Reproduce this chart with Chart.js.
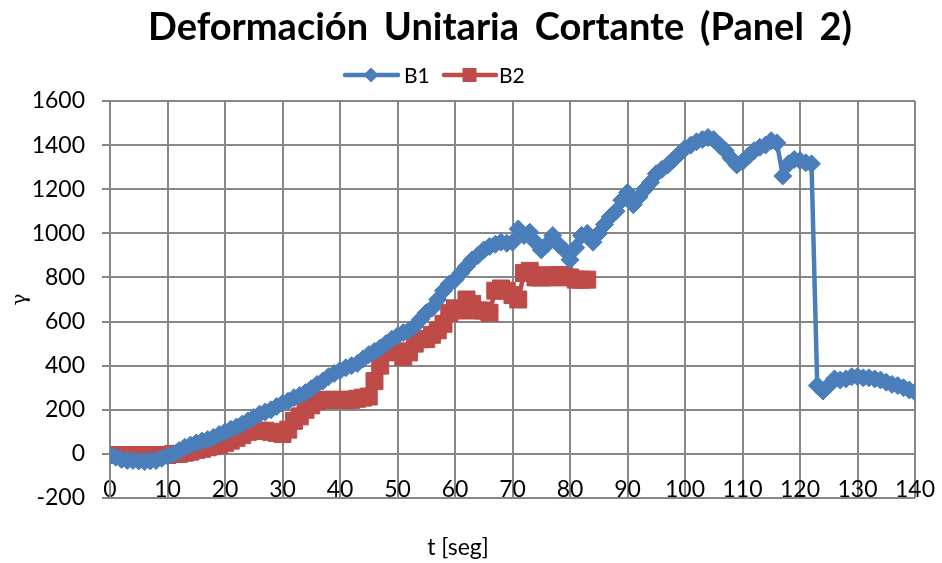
<!DOCTYPE html>
<html>
<head>
<meta charset="utf-8">
<script src="https://cdn.jsdelivr.net/npm/chart.js@4/dist/chart.umd.min.js"></script>
<style>
  html, body { margin: 0; padding: 0; background: #ffffff; }
  #wrap { width: 942px; height: 563px; position: relative; }
</style>
</head>
<body>
<div id="wrap"><canvas id="c" width="942" height="563"></canvas></div>
<script>
// ---------- data ----------
const chartTitle = 'Deformación Unitaria Cortante (Panel 2)';
const xAxisTitle = 't [seg]';
const yAxisTitle = 'γ';
const seriesNames = ['B1', 'B2'];

const timeB1 = [0,1,2,3,4,5,6,7,8,9,10,11,12,13,14,15,16,17,18,19,20,21,22,23,24,25,26,27,28,29,30,
  31,32,33,34,35,36,37,38,39,40,41,42,43,44,45,46,47,48,49,50,51,52,53,54,55,56,57,58,59,60,
  61,62,63,64,65,66,67,68,69,70,71,72,73,74,75,76,77,78,79,80,81,82,83,84,85,86,87,88,89,90,
  91,92,93,94,95,96,97,98,99,100,101,102,103,104,105,106,107,108,109,110,111,112,113,114,115,
  116,117,118,119,120,121,122,123,124,125,126,127,128,129,130,131,132,133,134,135,136,137,138,139,140];
const valuesB1 = [-5,-15,-25,-30,-30,-32,-35,-32,-30,-20,-10,0,15,30,40,50,58,65,75,88,100,
  112,122,135,150,165,180,190,200,215,228,240,255,265,278,295,315,330,350,365,378,
  390,400,410,430,450,465,480,500,520,535,550,560,580,610,640,660,700,740,770,790,
  820,850,880,900,925,940,950,960,955,960,1020,990,1005,960,925,950,990,950,925,880,
  935,990,1000,960,1000,1040,1075,1100,1150,1185,1130,1165,1200,1230,1270,1290,1310,1335,1360,1385,
  1400,1415,1425,1435,1425,1400,1375,1340,1310,1325,1350,1375,1390,1400,1420,1410,1260,1315,1335,1330,
  1320,1315,310,285,310,340,335,340,350,350,345,345,340,335,325,315,310,300,290,280];

const timeB2 = [0,1,2,3,4,5,6,7,8,9,10,11,12,13,14,15,16,17,18,19,20,21,22,23,24,25,26,27,28,29,30,
  31,32,33,34,35,36,37,38,39,40,41,42,43,44,45,46,47,48,49,50,51,52,53,54,55,56,57,58,59,60,
  61,62,63,64,65,66,67,68,69,70,71,72,73,74,75,76,77,78,79,80,81,82,83];
const valuesB2 = [-5,-5,-5,-5,-5,-5,-5,-5,-5,-5,-5,0,0,5,10,18,23,30,35,41,50,
  60,73,85,100,105,105,105,100,95,90,110,150,170,200,220,240,245,245,245,245,
  245,245,250,255,260,330,400,460,465,465,440,460,500,520,520,540,560,590,640,660,
  650,700,680,650,650,640,740,750,740,720,700,820,830,800,800,810,800,810,810,800,
  790,790,790];

const xTicks = [0,10,20,30,40,50,60,70,80,90,100,110,120,130,140];
const yTicks = [-200,0,200,400,600,800,1000,1200,1400,1600];

// ---------- styling ----------
const BLUE = '#4A7EBB';
const RED = '#BE4B48';
const GRID = '#878787';
const FONT = 'Lato';

function toPoints(xs, ys) { return xs.map((x, i) => ({x: x, y: ys[i]})); }

const decor = {
  id: 'decor',
  afterDraw(chart) {
    const ctx = chart.ctx;
    ctx.save();
    ctx.fillStyle = '#000';
    // title, stretched to the reference width
    ctx.font = 'bold 38px ' + FONT;
    ctx.textAlign = 'center';
    ctx.textBaseline = 'middle';
    const spaces = (chartTitle.match(/ /g) || []).length;
    const w0 = ctx.measureText(chartTitle).width;
    const extra = Math.max(0, (704 - w0) / spaces);
    ctx.wordSpacing = extra + 'px';
    ctx.fillText(chartTitle, 500, 28);
    ctx.wordSpacing = '0px';
    // x axis title
    ctx.font = '23px ' + FONT;
    ctx.fillText(xAxisTitle, 458, 548);
    // legend
    const ly = 75;
    ctx.lineWidth = 4.5;
    ctx.lineCap = 'round';
    ctx.strokeStyle = BLUE;
    ctx.beginPath(); ctx.moveTo(345, ly); ctx.lineTo(398, ly); ctx.stroke();
    ctx.fillStyle = BLUE;
    ctx.beginPath();
    ctx.moveTo(371 - 7.5, ly); ctx.lineTo(371, ly - 7.5); ctx.lineTo(371 + 7.5, ly); ctx.lineTo(371, ly + 7.5);
    ctx.closePath(); ctx.fill();
    ctx.strokeStyle = RED;
    ctx.beginPath(); ctx.moveTo(444, ly); ctx.lineTo(496, ly); ctx.stroke();
    ctx.fillStyle = RED;
    ctx.fillRect(469.5 - 7, ly - 7, 14, 14);
    ctx.fillStyle = '#000';
    ctx.font = '21px ' + FONT;
    ctx.textAlign = 'left';
    ctx.fillText(seriesNames[0], 404, ly + 1);
    ctx.fillText(seriesNames[1], 499, ly + 1);
    ctx.restore();
  }
};

new Chart(document.getElementById('c'), {
  type: 'line',
  data: {
    datasets: [
      {
        label: seriesNames[0],
        data: toPoints(timeB1, valuesB1),
        borderColor: BLUE,
        backgroundColor: BLUE,
        borderWidth: 4.5,
        pointStyle: 'rectRot',
        pointRadius: 9,
        pointBorderWidth: 1,
        pointBackgroundColor: BLUE,
        pointBorderColor: BLUE,
        tension: 0
      },
      {
        label: seriesNames[1],
        data: toPoints(timeB2, valuesB2),
        borderColor: RED,
        backgroundColor: RED,
        borderWidth: 4.5,
        pointStyle: 'rect',
        pointRadius: 12,
        pointBorderWidth: 1,
        pointBackgroundColor: RED,
        pointBorderColor: RED,
        tension: 0
      }
    ]
  },
  options: {
    responsive: false,
    animation: false,
    devicePixelRatio: 1,
    layout: { padding: { top: 101, bottom: 65, left: 0, right: 27 } },
    plugins: {
      legend: { display: false },
      title: { display: false },
      tooltip: { enabled: false }
    },
    scales: {
      x: {
        type: 'linear',
        position: { y: 0 },
        min: xTicks[0],
        max: xTicks[xTicks.length - 1],
        afterBuildTicks: s => { s.ticks = xTicks.map(v => ({value: v})); },
        afterFit: s => { s.paddingLeft = 0; s.paddingRight = 0; },
        ticks: {
          autoSkip: false,
          maxRotation: 0,
          padding: 22,
          color: '#000',
          font: { family: FONT, size: 23 },
          callback: v => String(v)
        },
        grid: { color: GRID, lineWidth: 2, drawTicks: false },
        border: { color: GRID, width: 2 }
      },
      y: {
        type: 'linear',
        position: 'left',
        min: yTicks[0],
        max: yTicks[yTicks.length - 1],
        afterBuildTicks: s => { s.ticks = yTicks.map(v => ({value: v})); },
        afterFit: s => { s.width = 110; },
        ticks: {
          padding: 17,
          color: '#000',
          font: { family: FONT, size: 23 },
          callback: v => String(v)
        },
        grid: { color: GRID, lineWidth: 2, tickLength: 8 },
        border: { color: GRID, width: 2 },
        title: {
          display: true,
          text: yAxisTitle,
          color: '#000',
          font: { family: 'DejaVu Serif', size: 20 },
          padding: { top: 9, bottom: 0 }
        }
      }
    }
  },
  plugins: [decor]
});
</script>
</body>
</html>
